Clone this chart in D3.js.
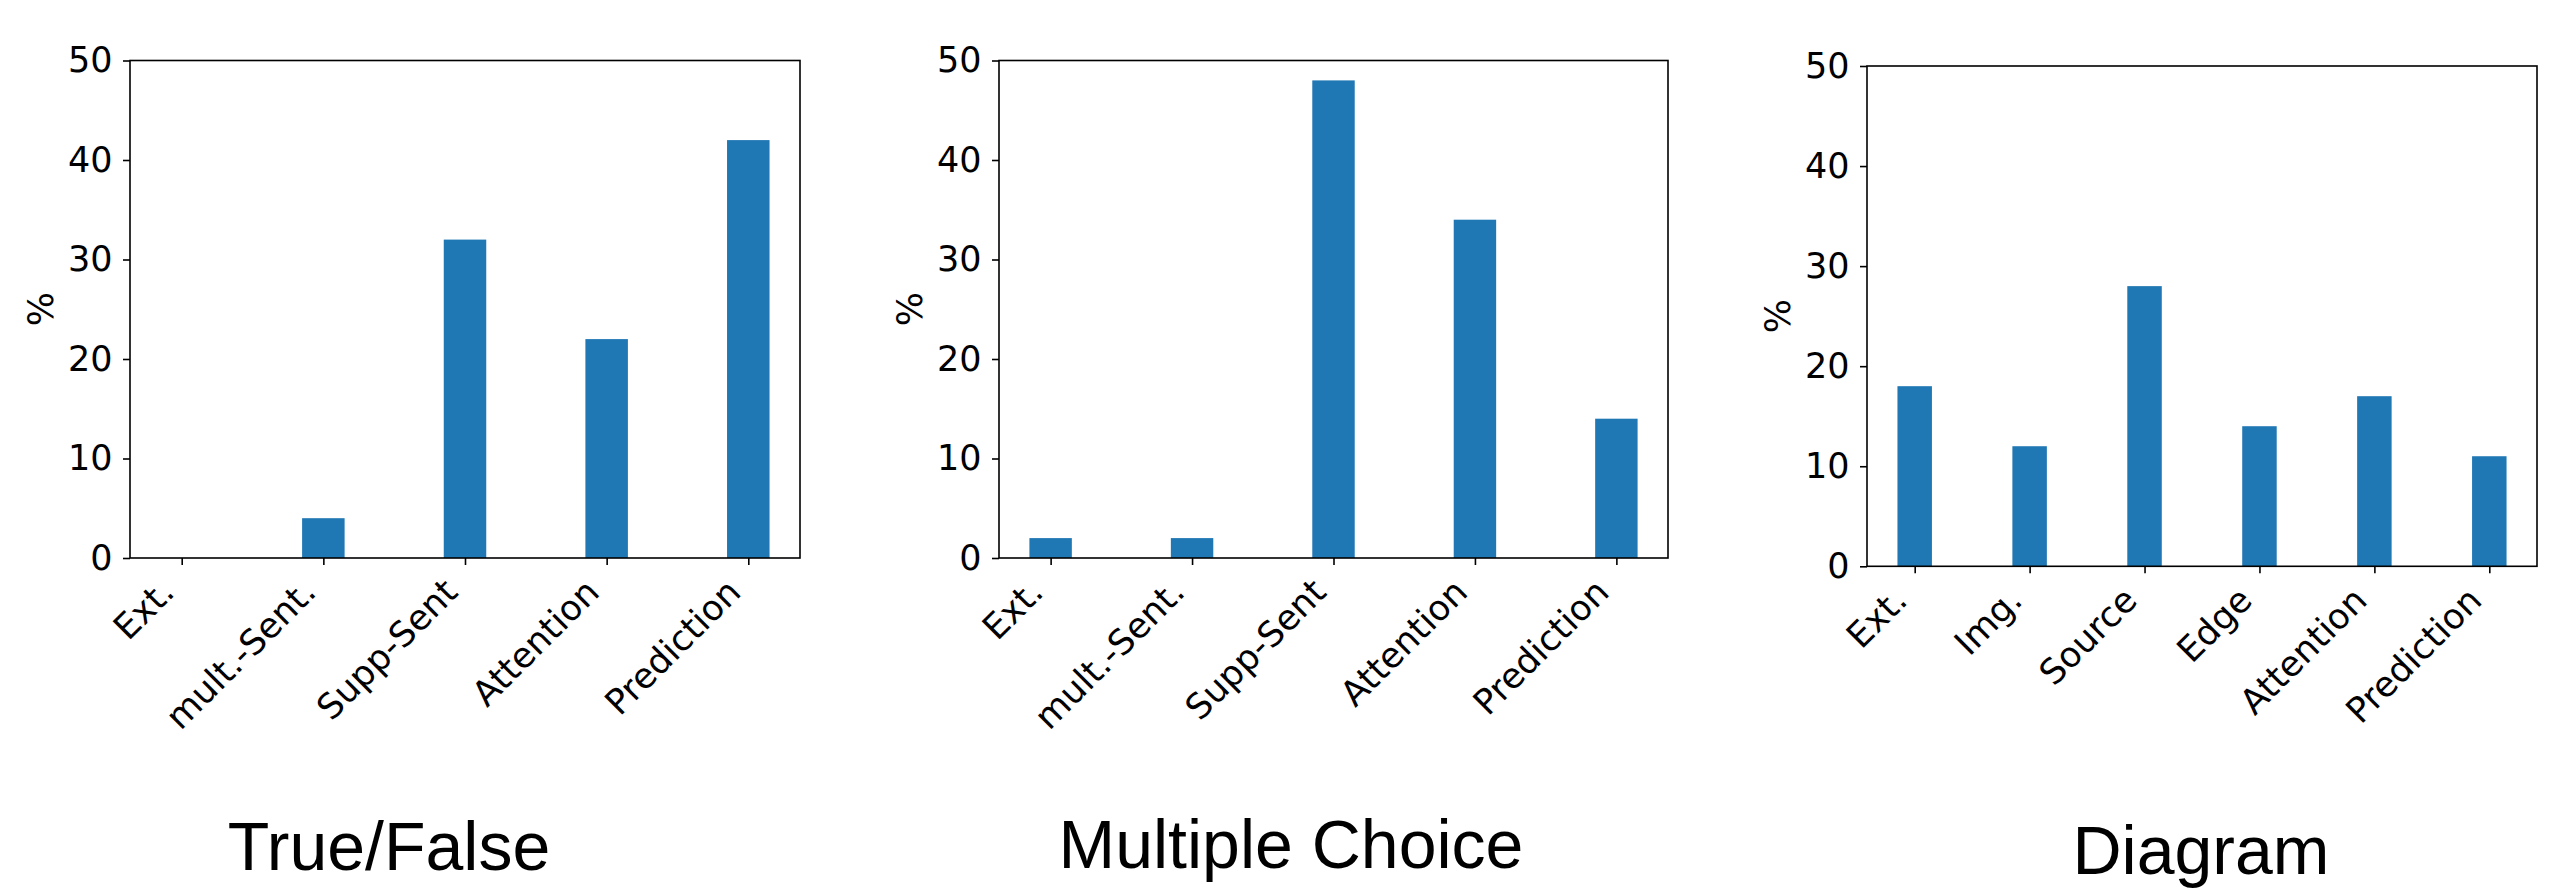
<html>

<head>
    <meta charset="utf-8" />
    <script src="https://cdn.jsdelivr.net/npm/d3@7"></script>
    <style>
        body { margin: 0; background: #fff; }
    </style>
</head>

<body>
    <script>
        // values (%)
        var tfCategories = ['Ext.', 'mult.-Sent.', 'Supp-Sent', 'Attention', 'Prediction'];
        var tfValues = [0, 4, 32, 22, 42];
        var mcCategories = ['Ext.', 'mult.-Sent.', 'Supp-Sent', 'Attention', 'Prediction'];
        var mcValues = [2, 2, 48, 34, 14];
        var dgCategories = ['Ext.', 'Img.', 'Source', 'Edge', 'Attention', 'Prediction'];
        var dgValues = [18, 12, 28, 14, 17, 11];
        var yTicks = [0, 10, 20, 30, 40, 50];
        var titles = ['True/False', 'Multiple Choice', 'Diagram'];
        var yLabel = '%';

        var width = 2563;
        var height = 889;
        var barWidth = 0.3;   // in category units, like matplotlib width=0.3
        var color = '#1f77b4';

        // where each subplot sits on the page
        var panels = [
            { cats: tfCategories, vals: tfValues, left: 130, right: 800, top: 60.5, bottom: 558, titleX: 389, titleY: 870 },
            { cats: mcCategories, vals: mcValues, left: 999, right: 1668, top: 60.5, bottom: 558, titleX: 1291, titleY: 868 },
            { cats: dgCategories, vals: dgValues, left: 1867, right: 2537, top: 66, bottom: 566.3, titleX: 2201, titleY: 874 }
        ];

        var svg = d3.select('body')
            .append('svg')
            .attr('width', width)
            .attr('height', height);

        panels.forEach(function (p, k) {
            var n = p.cats.length;
            var margin = 0.05 * (n - 1 + barWidth);
            var x = d3.scaleLinear()
                .domain([-barWidth / 2 - margin, n - 1 + barWidth / 2 + margin])
                .range([p.left, p.right]);
            var y = d3.scaleLinear()
                .domain([0, 50])
                .range([p.bottom, p.top]);

            var g = svg.append('g');

            g.selectAll('rect.bar')
                .data(p.vals)
                .enter()
                .append('rect')
                .attr('class', 'bar')
                .attr('fill', color)
                .attr('x', function (d, i) { return x(i - barWidth / 2); })
                .attr('width', x(barWidth) - x(0))
                .attr('y', function (d) { return y(d); })
                .attr('height', function (d) { return y(0) - y(d); });

            // y axis
            var yAxis = g.append('g')
                .attr('transform', 'translate(' + p.left + ',0)')
                .call(d3.axisLeft(y).tickValues(yTicks).tickSize(7).tickPadding(10.5));
            yAxis.select('.domain').remove();
            yAxis.selectAll('line').attr('stroke', '#000').attr('stroke-width', 1.6);
            yAxis.selectAll('text')
                .attr('font-family', 'DejaVu Sans')
                .attr('font-size', 35)
                .attr('fill', '#000');

            // x axis with rotated labels
            var xAxis = g.append('g')
                .attr('transform', 'translate(0,' + p.bottom + ')')
                .call(d3.axisBottom(x)
                    .tickValues(d3.range(n))
                    .tickFormat(function (i) { return p.cats[i]; })
                    .tickSize(7));
            xAxis.select('.domain').remove();
            xAxis.selectAll('line').attr('stroke', '#000').attr('stroke-width', 1.6);
            xAxis.selectAll('text')
                .attr('font-family', 'DejaVu Sans')
                .attr('font-size', 35)
                .attr('fill', '#000')
                .attr('text-anchor', 'end')
                .attr('x', -6)
                .attr('y', 36)
                .attr('dy', 0)
                .attr('transform', 'rotate(-45,-6,36)');

            // frame
            g.append('rect')
                .attr('x', p.left)
                .attr('y', p.top)
                .attr('width', p.right - p.left)
                .attr('height', p.bottom - p.top)
                .attr('fill', 'none')
                .attr('stroke', '#000')
                .attr('stroke-width', 1.6);

            // y label
            var cy = (p.top + p.bottom) / 2;
            g.append('text')
                .text(yLabel)
                .attr('font-family', 'DejaVu Sans')
                .attr('font-size', 36)
                .attr('text-anchor', 'middle')
                .attr('transform', 'translate(' + (p.left - 90) + ',' + cy + ') rotate(-90)')
                .attr('dy', '0.35em');

            // panel caption underneath
            svg.append('text')
                .text(titles[k])
                .attr('x', p.titleX)
                .attr('y', p.titleY)
                .attr('text-anchor', 'middle')
                .attr('font-family', 'Liberation Sans, Arial, sans-serif')
                .attr('font-size', 68)
                .attr('fill', '#000');
        });
    </script>
</body>

</html>
